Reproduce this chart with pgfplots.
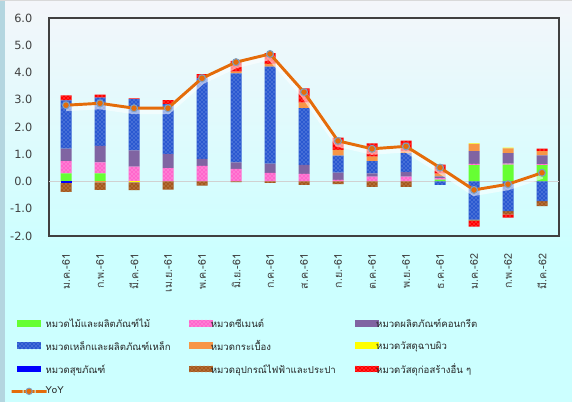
\documentclass[border=0pt]{standalone}
\usepackage{fontspec}
\setmainfont{DejaVu Sans}
\newfontfamily\thaifont[Script=Thai]{Loma}
\usepackage{pgfplots}
\pgfplotsset{compat=1.18}
\usepackage{pgfplotstable}
\usetikzlibrary{patterns}

\definecolor{cgreen}{HTML}{66FF33}
\definecolor{cpink}{HTML}{FF66CC}
\definecolor{cpinkdot}{HTML}{FFC8EC}
\definecolor{cpurple}{HTML}{8064A2}
\definecolor{csteel}{HTML}{2A58D0}
\definecolor{csteeldot}{HTML}{A0BAF0}
\definecolor{corange}{HTML}{F79646}
\definecolor{cyellow}{HTML}{FFFF00}
\definecolor{cblue}{HTML}{0000FF}
\definecolor{cbrown}{HTML}{A5581E}
\definecolor{cbrowndot}{HTML}{DDB080}
\definecolor{cred}{HTML}{FF0000}
\definecolor{creddot}{HTML}{FFA0A0}
\definecolor{cline}{HTML}{E46C0A}
\definecolor{cmarkedge}{HTML}{7F9FBF}
\definecolor{bgtop}{HTML}{F4F6FA}
\definecolor{bgbot}{HTML}{CCFFFF}
\definecolor{bgleft}{HTML}{B4D6E0}
\definecolor{txt}{HTML}{404040}

\tikzset{
  sG/.style={fill=cgreen, draw=none},
  sP/.style={fill=cpink, draw=none, postaction={pattern=crosshatch dots, pattern color=cpinkdot}},
  sC/.style={fill=cpurple, draw=none},
  sS/.style={fill=csteel, draw=none, postaction={pattern=crosshatch dots, pattern color=csteeldot}},
  sO/.style={fill=corange, draw=none},
  sY/.style={fill=cyellow, draw=none},
  sB/.style={fill=cblue, draw=none},
  sE/.style={fill=cbrown, draw=none, postaction={pattern=crosshatch dots, pattern color=cbrowndot}},
  sR/.style={fill=cred, draw=none, postaction={pattern=crosshatch dots, pattern color=creddot}},
}

\pgfplotsset{
  base/.style={
    scale only axis, width=382.5pt, height=163.5pt,
    at={(36.75pt,124.5pt)}, anchor=south west,
    xmin=-0.5, xmax=14.5, ymin=-2, ymax=6,
  },
  barlegend/.style={legend image code/.code={\path[#1, draw=none] (0pt,-2pt) rectangle (18pt,3.2pt);}},
  yoylegend/.style={legend image code/.code={\draw[#1, mark repeat=2, mark phase=2] plot coordinates {(0pt,0pt) (9pt,0pt) (18pt,0pt)};}},
}
\newcommand{\legtxt}[1]{\makebox[104pt][l]{\hspace*{-2.8pt}#1}}

% positive parts
\pgfplotstableread{
x g p c s o y b e r
0 0.30 0.45 0.46 1.77 0 0 0 0 0.18
1 0.30 0.40 0.61 1.77 0 0 0 0 0.11
2 0 0.55 0.59 1.88 0 0 0 0 0.03
3 0 0.49 0.51 1.84 0 0 0 0 0.15
4 0 0.57 0.26 2.95 0 0 0 0 0.16
5 0 0.46 0.24 3.27 0.06 0 0 0 0.40
6 0 0.32 0.34 3.56 0.10 0 0 0 0.39
7 0 0.28 0.33 2.08 0.20 0 0 0 0.53
8 0 0.06 0.27 0.62 0.21 0 0 0 0.45
9 0 0.18 0.12 0.45 0.16 0 0 0 0.49
10 0 0.18 0.16 0.70 0.06 0 0 0 0.40
11 0.07 0.05 0.07 0 0.10 0 0 0 0.33
12 0.60 0.05 0.46 0 0.27 0.02 0 0 0
13 0.62 0.04 0.38 0 0.18 0.02 0 0 0
14 0.60 0.04 0.32 0 0.15 0 0 0 0.10
}\postab

% negative parts
\pgfplotstableread{
x g p c s o y b e r
0 0 0 0 0 0 0 -0.05 -0.33 0
1 0 0 0 0 -0.03 0 0 -0.28 0
2 0 0 0 0 0 -0.03 0 -0.29 0
3 0 0 0 0 0 0 0 -0.30 0
4 0 0 0 0 0 0 0 -0.15 0
5 0 0 0 0 0 0 0 -0.02 0
6 0 0 0 0 0 0 0 -0.05 0
7 0 0 0 0 0 0 0 -0.12 0
8 0 0 0 0 0 0 0 -0.10 0
9 0 0 0 0 0 0 0 -0.20 0
10 0 0 0 0 0 0 0 -0.20 0
11 0 0 0 -0.12 0 0 0 0 0
12 0 0 0 -1.40 0 0 0 -0.04 -0.22
13 0 0 0 -1.09 0 0 0 -0.12 -0.12
14 0 0 0 -0.72 0 0 0 -0.18 0
}\negtab

\begin{document}
\begin{tikzpicture}
\useasboundingbox (0,0) rectangle (429pt,301.5pt);
\fill[bgbot] (0,0) rectangle (429pt,301.5pt);
\shade[top color=bgtop, bottom color=bgbot] (0,114pt) rectangle (429pt,301.5pt);
\fill[bgleft] (0,0) rectangle (3.5pt,301.5pt);
\fill[black!15] (0,300.5pt) rectangle (429pt,301.5pt);

% positive stack + frame + legend
\begin{axis}[base, ybar stacked, bar width=8.25pt,
  axis line style={draw=black!75, line width=0.9pt},
  major tick length=0pt, tick style={draw=none},
  xtick={0,...,14},
  xticklabels={ม.ค.-61, ก.พ.-61, มี.ค.-61, เม.ย.-61, พ.ค.-61, มิ.ย.-61, ก.ค.-61, ส.ค.-61, ก.ย.-61, ต.ค.-61, พ.ย.-61, ธ.ค.-61, ม.ค.-62, ก.พ.-62, มี.ค.-62},
  xticklabel style={rotate=90, anchor=east, font=\thaifont\fontsize{8}{9}\selectfont, text=txt},
  xticklabel shift=10pt,
  ytick={-2,-1,0,1,2,3,4,5,6},
  yticklabels={-2.0,-1.0,0.0,1.0,2.0,3.0,4.0,5.0,6.0},
  yticklabel style={font=\fontsize{8.5}{10}\selectfont, text=txt},
  yticklabel shift=9pt,
  extra y ticks={0}, extra y tick labels={},
  extra y tick style={grid=major, major grid style={draw=black!18, line width=1pt}},
  legend columns=3,
  legend cell align=left,
  legend style={at={(-0.0765,-0.372)}, anchor=north west, draw=none, fill=none,
    font=\thaifont\fontsize{7.2}{8.5}\selectfont, text=black!85,
    row sep=6.4pt, column sep=0pt, inner sep=0pt,
    nodes={inner xsep=1pt, inner ysep=1pt}},
  barlegend,
]
\addplot[sG] table[x=x,y=g]{\postab};
\addlegendentry{\legtxt{หมวดไม้และผลิตภัณฑ์ไม้}}
\addplot[sP] table[x=x,y=p]{\postab};
\addlegendentry{\legtxt{หมวดซีเมนต์}}
\addplot[sC] table[x=x,y=c]{\postab};
\addlegendentry{\legtxt{หมวดผลิตภัณฑ์คอนกรีต}}
\addplot[sS] table[x=x,y=s]{\postab};
\addlegendentry{\legtxt{หมวดเหล็กและผลิตภัณฑ์เหล็ก}}
\addplot[sO] table[x=x,y=o]{\postab};
\addlegendentry{\legtxt{หมวดกระเบื้อง}}
\addplot[sY] table[x=x,y=y]{\postab};
\addlegendentry{\legtxt{หมวดวัสดุฉาบผิว}}
\addplot[sB] table[x=x,y=b]{\postab};
\addlegendentry{\legtxt{หมวดสุขภัณฑ์}}
\addplot[sE] table[x=x,y=e]{\postab};
\addlegendentry{\legtxt{หมวดอุปกรณ์ไฟฟ้าและประปา}}
\addplot[sR] table[x=x,y=r]{\postab};
\addlegendentry{\legtxt{หมวดวัสดุก่อสร้างอื่น ๆ}}
\addlegendimage{yoylegend, cline, line width=2pt, mark=*, mark size=2.4pt,
  mark options={fill=cline, draw=cmarkedge, line width=0.7pt}}
\addlegendentry{\legtxt{YoY}}
\end{axis}

% negative stack
\begin{axis}[base, ybar stacked, bar width=8.25pt, hide axis]
\addplot[sG] table[x=x,y=g]{\negtab};
\addplot[sP] table[x=x,y=p]{\negtab};
\addplot[sC] table[x=x,y=c]{\negtab};
\addplot[sS] table[x=x,y=s]{\negtab};
\addplot[sO] table[x=x,y=o]{\negtab};
\addplot[sY] table[x=x,y=y]{\negtab};
\addplot[sB] table[x=x,y=b]{\negtab};
\addplot[sE] table[x=x,y=e]{\negtab};
\addplot[sR] table[x=x,y=r]{\negtab};
\end{axis}

% YoY line
\begin{axis}[base, hide axis, clip=false]
\addplot[white, opacity=0.55, line width=5pt, yshift=-2pt] coordinates {
(0,2.80)(1,2.87)(2,2.69)(3,2.69)(4,3.79)(5,4.38)(6,4.68)(7,3.28)(8,1.49)(9,1.20)(10,1.29)(11,0.51)(12,-0.31)(13,-0.10)(14,0.32)};
\addplot[cline, line width=2.2pt, mark=*, mark size=2.6pt,
  mark options={fill=cline, draw=cmarkedge, line width=0.8pt}] coordinates {
(0,2.80)(1,2.87)(2,2.69)(3,2.69)(4,3.79)(5,4.38)(6,4.68)(7,3.28)(8,1.49)(9,1.20)(10,1.29)(11,0.51)(12,-0.31)(13,-0.10)(14,0.32)};
\end{axis}
\end{tikzpicture}
\end{document}
